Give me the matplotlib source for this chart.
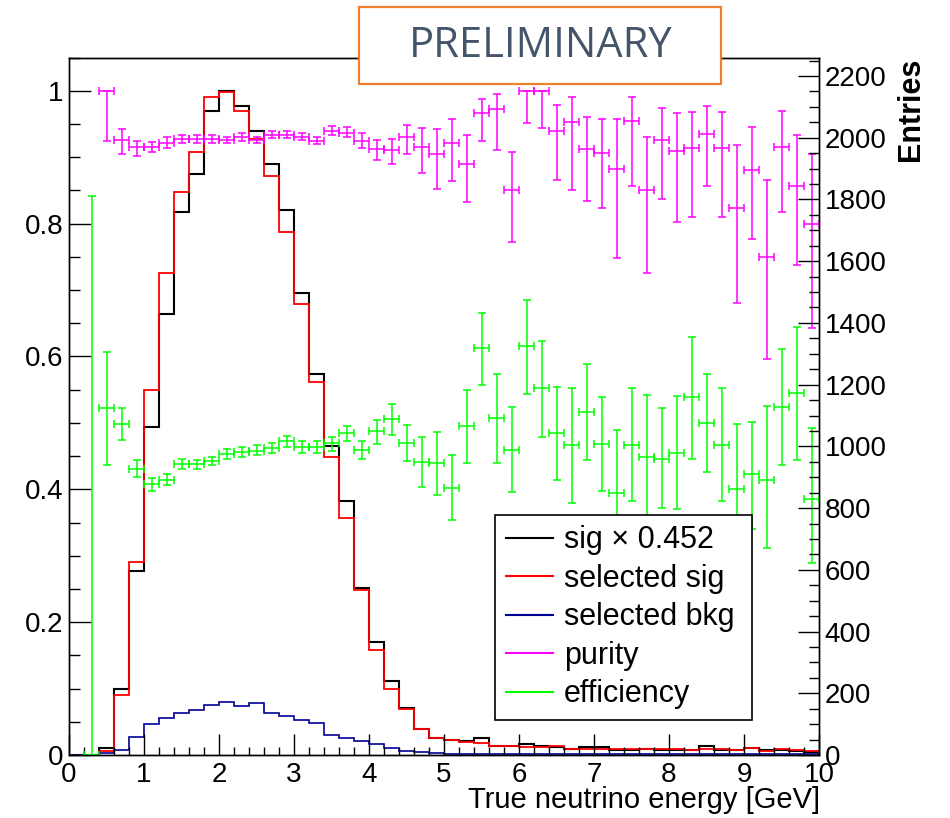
import numpy as np
import matplotlib
matplotlib.use("Agg")
import matplotlib.pyplot as plt
from matplotlib.lines import Line2D
from matplotlib.patches import Rectangle
from matplotlib.ticker import MultipleLocator, FuncFormatter

plt.rcParams['font.family'] = ['Liberation Sans', 'DejaVu Sans']

# 0.2 GeV bins from 0 to 10
edges = np.linspace(0, 10, 51)

sig_scaled = [0, 0, 0.010, 0.100, 0.277, 0.494, 0.664, 0.818, 0.874, 0.969,
              1.000, 0.977, 0.940, 0.889, 0.821, 0.695, 0.573, 0.465, 0.383, 0.251,
              0.170, 0.112, 0.071, 0.039, 0.025, 0.0226, 0.0216, 0.025, 0.014, 0.014,
              0.0166, 0.014, 0.0125, 0.0085, 0.0125, 0.0125, 0.0075, 0.0075, 0.0085, 0.0075,
              0.0075, 0.0075, 0.0136, 0.0075, 0.0075, 0.010, 0.0075, 0.0075, 0.0065, 0.005]

sel_sig = [0, 0, 0.006, 0.090, 0.290, 0.550, 0.725, 0.847, 0.907, 0.991,
           0.998, 0.970, 0.928, 0.872, 0.787, 0.679, 0.561, 0.449, 0.357, 0.248,
           0.158, 0.100, 0.069, 0.039, 0.026, 0.0226, 0.020, 0.0186, 0.014, 0.014,
           0.0125, 0.0125, 0.013, 0.0085, 0.0085, 0.0085, 0.0085, 0.0085, 0.0085, 0.0095,
           0.0085, 0.0075, 0.009, 0.0085, 0.0075, 0.010, 0.0065, 0.0085, 0.0075, 0.0065]

sel_bkg = [0, 0, 0.0025, 0.0075, 0.027, 0.046, 0.055, 0.063, 0.068, 0.076,
           0.080, 0.074, 0.078, 0.063, 0.058, 0.053, 0.048, 0.030, 0.025, 0.0216,
           0.016, 0.010, 0.0055, 0.004, 0.003, 0.002, 0.002, 0.0015, 0.002, 0.0015,
           0.001, 0.001, 0.001, 0.001, 0.001, 0.001, 0.001, 0.001, 0.001, 0.001,
           0.001, 0.001, 0.001, 0.001, 0.001, 0.001, 0.001, 0.001, 0.001, 0.001]

pur_x = [0.5, 0.7, 0.9, 1.1, 1.3, 1.5, 1.7, 1.9, 2.1, 2.3, 2.5, 2.7, 2.9, 3.1, 3.3, 3.5,
         3.7, 3.9, 4.1, 4.3, 4.5, 4.7, 4.9, 5.1, 5.3, 5.5, 5.7, 5.9, 6.1, 6.3, 6.5, 6.7,
         6.9, 7.1, 7.3, 7.5, 7.7, 7.9, 8.1, 8.3, 8.5, 8.7, 8.9, 9.1, 9.3, 9.5, 9.7, 9.9]
pur_y = [1.000, 0.926, 0.915, 0.915, 0.922, 0.928, 0.928, 0.928, 0.926, 0.930, 0.926, 0.934,
         0.934, 0.931, 0.925, 0.940, 0.937, 0.925, 0.912, 0.911, 0.930, 0.915, 0.905, 0.922,
         0.890, 0.966, 0.972, 0.850, 1.000, 1.000, 0.940, 0.953, 0.912, 0.906, 0.882, 0.955,
         0.850, 0.926, 0.910, 0.914, 0.935, 0.914, 0.824, 0.880, 0.750, 0.916, 0.857, 0.800]
pur_lo = [0.924, 0.905, 0.902, 0.907, 0.914, 0.921, 0.922, 0.922, 0.921, 0.924, 0.921, 0.929,
          0.929, 0.926, 0.920, 0.933, 0.930, 0.914, 0.896, 0.890, 0.905, 0.876, 0.852, 0.864,
          0.832, 0.924, 0.911, 0.772, 0.951, 0.944, 0.865, 0.851, 0.834, 0.823, 0.748, 0.857,
          0.725, 0.837, 0.802, 0.810, 0.857, 0.810, 0.681, 0.777, 0.596, 0.818, 0.738, 0.643]
pur_hi = [1.000, 0.943, 0.925, 0.923, 0.930, 0.934, 0.934, 0.934, 0.931, 0.936, 0.931, 0.939,
          0.939, 0.936, 0.930, 0.947, 0.945, 0.936, 0.926, 0.928, 0.949, 0.944, 0.942, 0.958,
          0.934, 0.987, 0.995, 0.908, 1.000, 1.000, 0.979, 0.991, 0.960, 0.957, 0.958, 0.991,
          0.931, 0.974, 0.967, 0.968, 0.977, 0.968, 0.918, 0.945, 0.865, 0.970, 0.934, 0.905]

eff_x = [0.3] + pur_x
eff_y = [0.0, 0.523, 0.498, 0.430, 0.408, 0.414, 0.438, 0.438, 0.442, 0.453, 0.456, 0.458,
         0.462, 0.472, 0.463, 0.464, 0.469, 0.484, 0.459, 0.487, 0.506, 0.469, 0.441, 0.439,
         0.402, 0.495, 0.612, 0.508, 0.459, 0.616, 0.552, 0.484, 0.466, 0.516, 0.468, 0.395,
         0.467, 0.448, 0.446, 0.455, 0.539, 0.500, 0.467, 0.400, 0.423, 0.414, 0.524, 0.545, 0.386]
eff_lo = [0.0, 0.437, 0.474, 0.418, 0.398, 0.406, 0.431, 0.431, 0.436, 0.446, 0.448, 0.451,
          0.455, 0.463, 0.455, 0.454, 0.458, 0.473, 0.445, 0.468, 0.482, 0.442, 0.403, 0.392,
          0.354, 0.440, 0.557, 0.440, 0.396, 0.544, 0.478, 0.414, 0.380, 0.444, 0.398, 0.300,
          0.383, 0.356, 0.372, 0.370, 0.446, 0.426, 0.383, 0.300, 0.340, 0.311, 0.436, 0.444, 0.289]
eff_hi = [0.841, 0.607, 0.522, 0.444, 0.417, 0.423, 0.445, 0.444, 0.449, 0.460, 0.463, 0.466,
          0.470, 0.480, 0.472, 0.472, 0.479, 0.495, 0.473, 0.504, 0.528, 0.497, 0.479, 0.486,
          0.452, 0.550, 0.666, 0.573, 0.524, 0.685, 0.623, 0.554, 0.552, 0.588, 0.539, 0.489,
          0.552, 0.542, 0.522, 0.541, 0.629, 0.574, 0.552, 0.498, 0.502, 0.525, 0.611, 0.644, 0.492]

labels = ["sig \u00d7 0.452", "selected sig", "selected bkg", "purity", "efficiency"]
colors = ["black", "#ff0000", "#000099", "#ff00ff", "#00ff00"]

fig = plt.figure(figsize=(9.5, 8.18), dpi=100)
ax = fig.add_axes([69/950, 63/818, 750/950, 697.5/818])

ax.stairs(sig_scaled, edges, color=colors[0], lw=1.5)
ax.stairs(sel_sig, edges, color=colors[1], lw=1.3)
ax.stairs(sel_bkg, edges, color=colors[2], lw=1.2)


def draw_points(x, y, lo, hi, c):
    x = np.array(x); y = np.array(y)
    yerr = [y - np.array(lo), np.array(hi) - y]
    ax.errorbar(x, y, xerr=0.1, yerr=yerr, fmt='none', ecolor=c,
                elinewidth=1.1, capsize=3, capthick=1.1, zorder=3)


draw_points(pur_x, pur_y, pur_lo, pur_hi, colors[3])
draw_points(eff_x, eff_y, eff_lo, eff_hi, colors[4])

ax.set_xlim(0, 10)
ax.set_ylim(0, 1.05)
ax.xaxis.set_major_locator(MultipleLocator(1))
ax.xaxis.set_minor_locator(MultipleLocator(0.2))
ax.yaxis.set_major_locator(MultipleLocator(0.2))
ax.yaxis.set_minor_locator(MultipleLocator(0.05))
ax.yaxis.set_major_formatter(FuncFormatter(lambda v, p: "%g" % round(v, 2)))
ax.tick_params(axis='both', which='both', direction='in', top=False, right=False,
               labelsize=20, width=1)
ax.tick_params(axis='x', which='major', length=15, pad=5)
ax.tick_params(axis='x', which='minor', length=6)
ax.tick_params(axis='y', which='major', length=16, pad=4)
ax.tick_params(axis='y', which='minor', length=8)

ax2 = ax.twinx()
ax2.set_ylim(0, 2260)
ax2.yaxis.set_major_locator(MultipleLocator(200))
ax2.yaxis.set_minor_locator(MultipleLocator(50))
ax2.tick_params(axis='y', which='both', direction='in', labelsize=20, width=1)
ax2.tick_params(axis='y', which='major', length=15, pad=4)
ax2.tick_params(axis='y', which='minor', length=7)
for a in (ax, ax2):
    for s in a.spines.values():
        s.set_linewidth(1)

handles = [Line2D([], [], color=c, lw=1.5) for c in colors]
leg = ax2.legend(handles, labels, loc='lower left',
                 bbox_to_anchor=(0.568, 0.050, 0.343, 0.284), mode='expand',
                 fontsize=22, frameon=True, fancybox=False, borderaxespad=0,
                 handlelength=1.55, handletextpad=0.35, labelspacing=0.28,
                 borderpad=0.35)
leg.get_frame().set_edgecolor('black')
leg.get_frame().set_linewidth(1.2)
leg.get_frame().set_alpha(1)

fig.text(820/950, 18/818, "True neutrino energy [GeV]", ha='right', va='center',
         fontsize=21)
fig.text(911/950, 1 - 57.5/818, "Entries", rotation=90, ha='center', va='top',
         fontsize=22, fontweight='bold')

box = Rectangle((359/950, 1 - 84/818), 362/950, 77/818, transform=fig.transFigure,
                facecolor='white', edgecolor='#f08030', lw=1.6, zorder=10)
fig.patches.append(box)
fig.text(541/950, 1 - 46/818, "PRELIMINARY", ha='center', va='center',
         fontsize=30, color='#44546a', family=['Open Sans', 'DejaVu Sans'], zorder=11)

fig.savefig("out.png", dpi=100)
